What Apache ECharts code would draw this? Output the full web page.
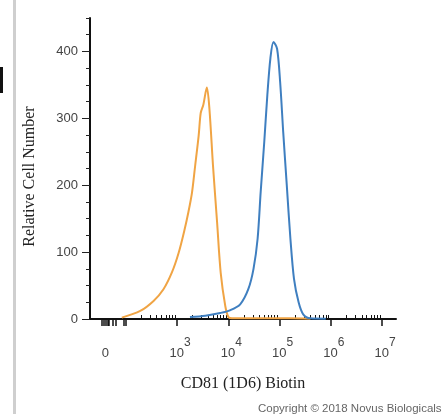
<!DOCTYPE html>
<html>
<head>
<meta charset="utf-8">
<script src="https://cdn.jsdelivr.net/npm/echarts@6/dist/echarts.min.js"></script>
<style>
  html, body { margin: 0; padding: 0; background: #fff; }
  #chart { width: 446px; height: 414px; }
</style>
</head>
<body>
<div id="chart"></div>
<script>
// x is in decade units of the biexponential display (3 = 10^3 ...)
const zeroPos = 1.6;
const decadeLabels = [zeroPos, 3, 4, 5, 6, 7];
const majorTicks = [2, 3, 4, 5, 6, 7];
const denseTicks = [1.52, 1.56, 1.6, 1.64, 1.67, 1.75, 1.8, 1.95, 1.99];
const yMajor = [0, 100, 200, 300, 400];

// Isotype control (orange)
const controlX = [1.92, 2.28, 2.54, 2.73, 2.9, 3.03, 3.14, 3.22, 3.29, 3.35, 3.42, 3.46, 3.51, 3.58, 3.63, 3.7, 3.78, 3.85, 3.94, 4.0, 4.07, 4.6, 5.2, 5.6];
const controlY = [2, 12, 27, 44, 70, 99, 132, 160, 189, 228, 274, 308, 320, 346, 314, 229, 144, 69, 19, 3, 1, 1, 1, 0.5];

// CD81 (1D6) Biotin (blue)
const cd81X = [3.25, 3.55, 3.84, 4.03, 4.23, 4.39, 4.49, 4.57, 4.63, 4.7, 4.76, 4.82, 4.88, 4.95, 5.01, 5.07, 5.14, 5.21, 5.28, 5.37, 5.46, 5.6, 5.9];
const cd81Y = [3, 5, 9, 13, 22, 45, 75, 120, 190, 265, 335, 390, 414, 404, 354, 279, 199, 120, 60, 25, 7, 1, 0.5];

const minorTicks = [];
for (let d = 2; d < 7; d++) {
  for (let k = 2; k <= 9; k++) minorTicks.push(d + Math.log10(k));
}

const pairs = (xs, ys) => xs.map((x, i) => [x, ys[i]]);

const chart = echarts.init(document.getElementById('chart'));

const sans = 'Liberation Sans, Arial, sans-serif';
const serif = 'Liberation Serif, Times New Roman, serif';
const axisLine = { show: true, onZero: false, lineStyle: { color: '#111', width: 2 } };

chart.setOption({
  backgroundColor: '#fff',
  animation: false,
  grid: { left: 90, right: 50, top: 18, bottom: 95 },
  xAxis: [
    {
      type: 'value', min: 1.3, max: 7.27,
      axisLine,
      splitLine: { show: false },
      axisTick: { show: true, length: 7, lineStyle: { color: '#111', width: 1.5 }, customValues: majorTicks.concat(denseTicks) },
      axisLabel: {
        customValues: decadeLabels,
        margin: 18,
        formatter: (v) => Math.abs(v - zeroPos) < 0.01 ? '{b|0}' : '{p|}{b|10}{s|' + Math.round(v) + '}',
        rich: {
          b: { fontSize: 13, color: '#444', fontFamily: sans, lineHeight: 23, verticalAlign: 'bottom' },
          p: { width: 6 },
          s: { fontSize: 12, color: '#444', fontFamily: sans, verticalAlign: 'top' }
        }
      },
      name: 'CD81 (1D6) Biotin',
      nameLocation: 'middle',
      nameGap: 57,
      nameTextStyle: { color: '#222', fontSize: 16, fontFamily: serif }
    },
    {
      type: 'value', min: 1.3, max: 7.27,
      axisLine: { show: false },
      splitLine: { show: false },
      axisTick: { show: true, length: 4, lineStyle: { color: '#111', width: 1 }, customValues: minorTicks },
      axisLabel: { show: false }
    }
  ],
  yAxis: [
    {
      type: 'value', min: 0, max: 450, interval: 100,
      axisLine,
      splitLine: { show: false },
      axisTick: { show: true, length: 8, lineStyle: { color: '#222', width: 1 }, customValues: yMajor },
      axisLabel: {
        customValues: yMajor,
        margin: 12,
        color: '#444',
        fontSize: 13,
        fontFamily: sans
      },
      name: 'Relative Cell Number',
      nameLocation: 'middle',
      nameGap: 52,
      nameTextStyle: { color: '#222', fontSize: 16, fontFamily: serif, padding: [0, 16, 0, 0] }
    },
    {
      type: 'value', min: 0, max: 450, interval: 25,
      position: 'left',
      axisLine: { show: false },
      splitLine: { show: false },
      axisTick: { show: true, length: 4, lineStyle: { color: '#222', width: 1 } },
      axisLabel: { show: false }
    }
  ],
  series: [
    {
      name: 'Control',
      type: 'line',
      data: pairs(controlX, controlY),
      smooth: 0.3,
      showSymbol: false,
      lineStyle: { color: '#f0a444', width: 2 },
      z: 2
    },
    {
      name: 'CD81',
      type: 'line',
      data: pairs(cd81X, cd81Y),
      smooth: 0.3,
      showSymbol: false,
      lineStyle: { color: '#3f7fc0', width: 2 },
      z: 3
    }
  ],
  graphic: [
    { type: 'rect', shape: { x: 13, y: 0, width: 3, height: 414 }, style: { fill: '#cfcfcf' } },
    { type: 'rect', shape: { x: 0, y: 67, width: 3, height: 26 }, style: { fill: '#111' } },
    {
      type: 'text', left: 258, top: 403,
      style: { text: 'Copyright \u00a9 2018 Novus Biologicals', fill: '#666', font: '11.5px "Liberation Sans", sans-serif' }
    }
  ]
});
</script>
</body>
</html>
